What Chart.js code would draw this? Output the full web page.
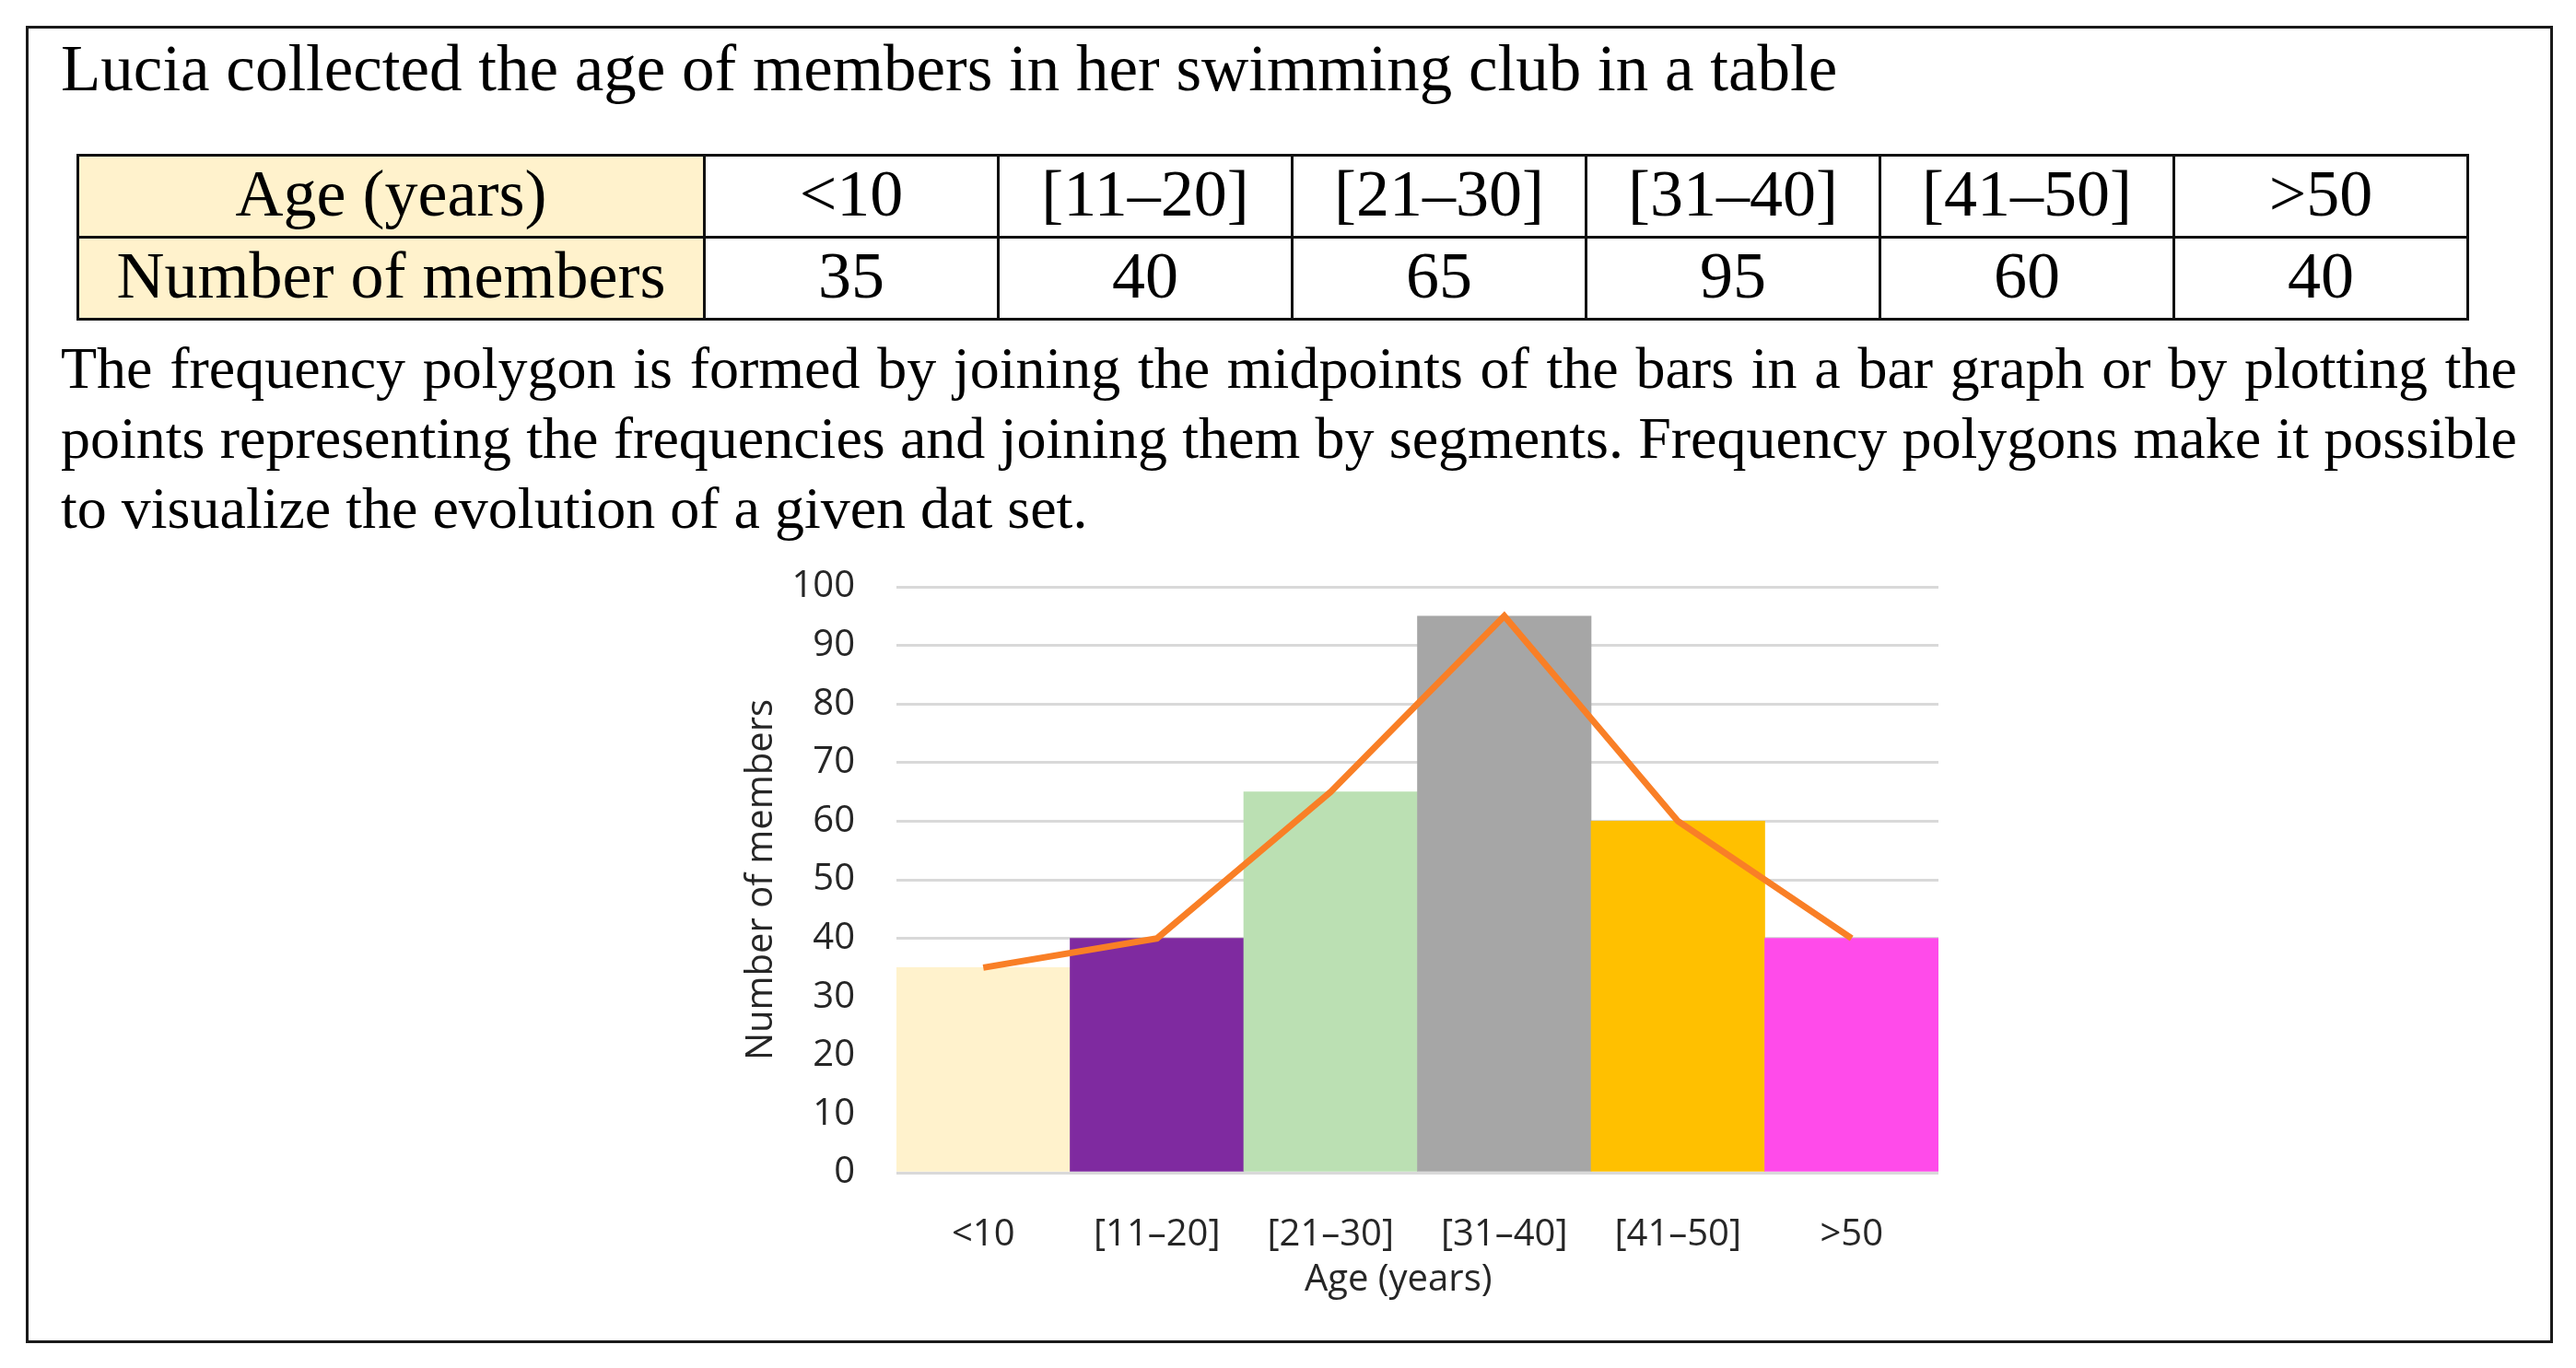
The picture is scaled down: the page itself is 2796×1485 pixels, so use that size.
<!DOCTYPE html>
<html>
<head>
<meta charset="utf-8">
<script src="https://cdn.jsdelivr.net/npm/chart.js@4.4.1/dist/chart.umd.min.js"></script>
<style>
  html, body { margin: 0; padding: 0; background: #fff; }
  body { width: 2796px; height: 1485px; position: relative; overflow: hidden; }
  .frame {
    position: absolute; left: 28px; top: 28px; width: 2743px; height: 1430px;
    box-sizing: border-box; border: 3px solid #1a1a1a;
  }
  .serif { font-family: "Liberation Serif", "Times New Roman", serif; color: #000; }
  #title { position: absolute; left: 66px; top: 34px; font-size: 71px; line-height: 80px; white-space: nowrap; }
  #ageTable {
    position: absolute; left: 83px; top: 167px; width: 2595px;
    border-collapse: collapse; table-layout: fixed; font-size: 72px;
  }
  #ageTable td {
    border: 3px solid #111; height: 80px; padding: 0 0 6px 0; line-height: 80px;
    text-align: center; vertical-align: middle; white-space: nowrap;
  }
  #ageTable td.head { background: #FFF2CC; }
  .para { position: absolute; left: 66px; width: 2666px; font-size: 64px; line-height: 76px; white-space: nowrap; }
  .just { text-align: justify; text-align-last: justify; white-space: normal; }
  #chartBox { position: absolute; left: 760px; top: 600px; width: 1400px; height: 850px; }
</style>
</head>
<body>
<div class="frame"></div>
<div id="title" class="serif">Lucia collected the age of members in her swimming club in a table</div>
<table id="ageTable" class="serif">
  <colgroup id="cols"></colgroup>
  <tr id="rowAge"></tr>
  <tr id="rowNum"></tr>
</table>
<div class="para serif just" style="top:362px">The frequency polygon is formed by joining the midpoints of the bars in a bar graph or by plotting the</div>
<div class="para serif just" style="top:438px">points representing the frequencies and joining them by segments. Frequency polygons make it possible</div>
<div class="para serif" style="top:514px">to visualize the evolution of a given dat set.</div>
<div id="chartBox"><canvas id="freqChart" width="1400" height="850"></canvas></div>

<script>
var ageGroups = ["<10", "[11\u201320]", "[21\u201330]", "[31\u201340]", "[41\u201350]", ">50"];
var members = [35, 40, 65, 95, 60, 40];
var barColors = ["#FFF2CC", "#7F2AA0", "#BBE0B3", "#A6A6A6", "#FFC000", "#FF4BEA"];
var lineColor = "#F97F26";
var yTicks = [0, 10, 20, 30, 40, 50, 60, 70, 80, 90, 100];

// table built from the same arrays
var cols = document.getElementById("cols");
var c0 = document.createElement("col");
c0.style.width = "680px";
cols.appendChild(c0);
ageGroups.forEach(function() {
  var c = document.createElement("col");
  c.style.width = "319px";
  cols.appendChild(c);
});
function addRow(rowId, head, cells) {
  var tr = document.getElementById(rowId);
  var th = document.createElement("td");
  th.className = "head";
  th.textContent = head;
  tr.appendChild(th);
  cells.forEach(function(v) {
    var td = document.createElement("td");
    td.textContent = v;
    tr.appendChild(td);
  });
}
addRow("rowAge", "Age (years)", ageGroups);
addRow("rowNum", "Number of members", members);

var textColor = "#262626";
Chart.defaults.font.family = "'Open Sans', 'Noto Sans', sans-serif";
Chart.defaults.font.size = 40;
Chart.defaults.color = textColor;

var ctx = document.getElementById("freqChart").getContext("2d");
var chart = new Chart(ctx, {
  type: "bar",
  data: {
    labels: ageGroups,
    datasets: [
      {
        type: "line",
        data: members,
        borderColor: lineColor,
        borderWidth: 7,
        pointRadius: 0,
        tension: 0,
        fill: false,
        order: 1
      },
      {
        type: "bar",
        data: members,
        backgroundColor: barColors,
        borderWidth: 0,
        barPercentage: 1.0,
        categoryPercentage: 1.0,
        order: 2
      }
    ]
  },
  options: {
    responsive: false,
    animation: false,
    layout: { padding: { top: 37, right: 56, bottom: 0, left: 0 } },
    plugins: { legend: { display: false }, tooltip: { enabled: false } },
    scales: {
      x: {
        grid: { display: false },
        border: { display: false },
        ticks: { padding: 36, maxRotation: 0 },
        title: { display: true, text: "Age (years)\u00a0\u00a0\u00a0\u00a0", padding: { top: 0, bottom: 36 } },
        afterFit: function(s) { s.height = 177; }
      },
      y: {
        min: yTicks[0],
        max: yTicks[yTicks.length - 1],
        afterBuildTicks: function(s) { s.ticks = yTicks.map(function(v) { return { value: v }; }); },
        // gap between labels and plot comes from an invisible tick mark,
        // so it does not push the plot top down
        ticks: { padding: 0 },
        grid: { color: "#D9D9D9", lineWidth: 3, drawTicks: true, tickLength: 45, tickColor: "rgba(0,0,0,0)" },
        border: { display: false },
        title: { display: true, text: "Number of members", padding: { top: 43, bottom: 0 } },
        afterFit: function(s) { s.width = 213; }
      }
    }
  }
});
</script>
</body>
</html>
